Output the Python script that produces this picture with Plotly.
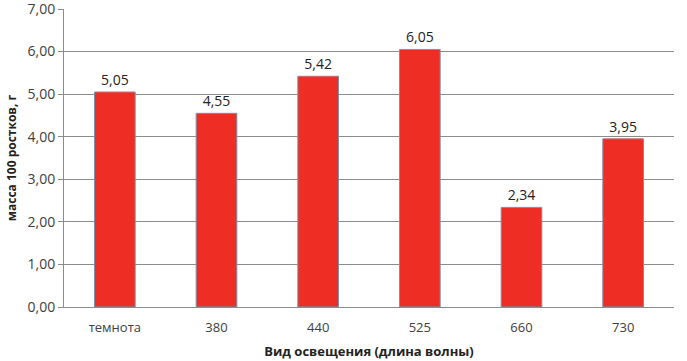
import plotly.graph_objects as go

categories = ["темнота", "380", "440", "525", "660", "730"]
values = [5.05, 4.55, 5.42, 6.05, 2.34, 3.95]
labels = [f"{v:.2f}".replace(".", ",") for v in values]
ytick_vals = [0, 1, 2, 3, 4, 5, 6, 7]
ytick_text = [f"{v:.2f}".replace(".", ",") for v in ytick_vals]

fig = go.Figure(go.Bar(
    x=categories, y=values, text=labels, textposition="outside",
    marker=dict(color="#EE2D24", line=dict(color="#7F8FA8", width=1)),
    textfont=dict(size=14, color="#222222"),
    width=0.4, cliponaxis=False,
))
fig.update_layout(
    width=687, height=361,
    margin=dict(l=64, r=13, t=9, b=54),
    plot_bgcolor="white", paper_bgcolor="white",
    font=dict(family="Open Sans", size=14, color="#404040"),
    showlegend=False,
    xaxis=dict(
        automargin=False,
        showline=True, linecolor="#8C8C8C", linewidth=1,
        tickfont=dict(size=13, color="#404040"),
        ticklabelstandoff=8,
        title=dict(text="<b>Вид освещения (длина волны)</b>", font=dict(size=13, color="#222222"), standoff=12),
        ticks="",
    ),
    yaxis=dict(
        automargin=False,
        range=[0, 7.0], tickmode="array", tickvals=ytick_vals, ticktext=ytick_text,
        ticklabeloverflow="allow",
        showgrid=True, gridcolor="#8C8C8C", gridwidth=1,
        showline=True, linecolor="#8C8C8C", linewidth=1,
        ticks="outside", ticklen=5, tickcolor="#8C8C8C",
        tickfont=dict(size=14, color="#404040"),
        title=dict(text="<b>масса 100 ростков, г</b>", font=dict(size=12, color="#222222"), standoff=8),
        zeroline=False,
    ),
)
fig.write_html("out.html", config={"displayModeBar": False},
               post_script="document.body.style.margin='0';document.body.style.overflow='hidden';")
